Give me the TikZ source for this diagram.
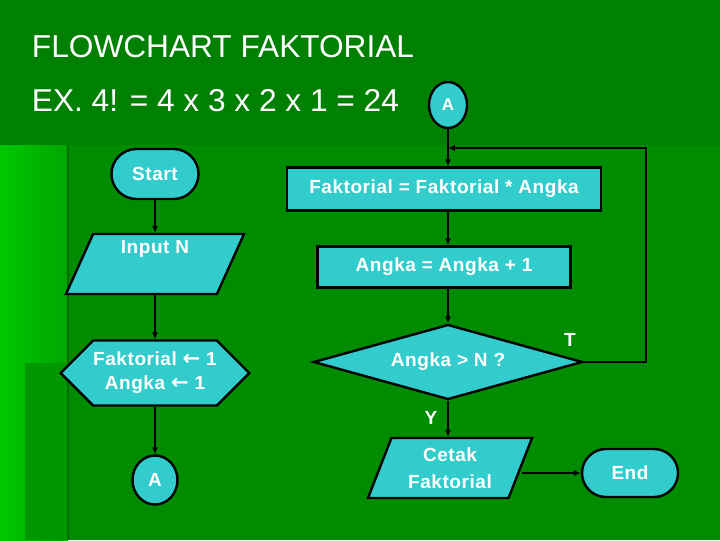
\documentclass[tikz,border=0pt]{standalone}
\usepackage{fontspec}
\setmainfont{Liberation Sans}
\newfontfamily\boxfont[LetterSpace=3]{Liberation Sans}
\newfontfamily\arrowfont{DejaVu Sans}
\usetikzlibrary{arrows.meta, positioning, calc, shapes.geometric, shapes.misc, shapes.symbols}
\definecolor{boxcyan}{RGB}{51,204,204}
\definecolor{bgdark}{RGB}{0,128,0}
\definecolor{bgmid}{RGB}{0,140,0}
\definecolor{bglight}{RGB}{0,165,0}
\definecolor{bgbright}{RGB}{0,200,0}
\newcommand{\setarrow}{{\arrowfont\bfseries\fontsize{15}{15}\selectfont ←}}

\begin{document}
\begin{tikzpicture}[x=0.025cm, y=-0.025cm,
  shp/.style={draw=black, line width=1.7pt, fill=boxcyan, text=white,
    font=\boxfont\fontsize{13.5}{17}\selectfont\bfseries, inner sep=0pt, align=center},
  term/.style={shp, rounded rectangle},
  iobox/.style={shp, trapezium, trapezium left angle=60, trapezium right angle=120,
    trapezium stretches body},
  procbox/.style={shp, rectangle},
  prepbox/.style={shp, signal, signal to=west and east, signal pointer angle=90},
  decide/.style={shp, diamond, aspect=3.6},
  conn/.style={shp, ellipse},
  arr/.style={line width=1.4pt, -{Latex[length=5pt,width=4.5pt]}},
  lbl/.style={text=white, font=\boxfont\fontsize{13.5}{16}\selectfont\bfseries},
  head/.style={anchor=west, text=white, font=\fontsize{22.5}{26}\selectfont}]
  \useasboundingbox (0,0) rectangle (720,540);

  % background of the slide
  \fill[bgdark] (0,0) rectangle (720,540);
  \shade[left color=bgbright, right color=bglight] (0,145) rectangle (68,540);
  \fill[bglight!92!black] (25,363) rectangle (68,540);
  \fill[bgmid] (68,145) rectangle (720,540);
  \draw[bgdark!85!black, line width=1pt] (68,145) -- (68,540);

  % heading
  \node[head] (title) at (27,47) {FLOWCHART FAKTORIAL};
  \node[head] (example) at (27,101) {EX. 4! = 4 x 3 x 2 x 1 = 24};

  % left column
  \node[term, minimum width=2.175cm, minimum height=1.25cm] (start) at (155,174) {Start};
  \node[iobox, minimum width=4.45cm, minimum height=1.5cm] (input) at (155,264) {Input N\\[2pt]\strut};
  \node[prepbox, minimum width=4.6cm, minimum height=1.625cm] (init) at (155,373)
    {Faktorial \setarrow\ 1\\Angka \setarrow\ 1};
  \node[conn, minimum width=1.125cm, minimum height=1.225cm] (abot) at (155,480) {A};

  % right column
  \node[conn, minimum width=0.95cm, minimum height=1.15cm, font=\boxfont\fontsize{12}{14}\selectfont\bfseries] (atop) at (448,105) {A};
  \coordinate (join) at (448,148);
  \coordinate (turn) at (646,148);
  \node[procbox, minimum width=7.85cm, minimum height=1.075cm] (kali) at (444,189) {Faktorial = Faktorial * Angka};
  \node[procbox, minimum width=6.325cm, minimum height=1.025cm] (tambah) at (444,267) {Angka = Angka + 1};
  \node[decide, minimum width=6.725cm, minimum height=1.875cm] (check) at (448,362) {Angka > N ?};
  \node[iobox, minimum width=4.1cm, minimum height=1.5cm] (cetak) at (450,468) {Cetak\\[2pt]Faktorial};
  \node[term, minimum width=2.4cm, minimum height=1.2cm] (end) at (630,473) {End};

  % branch labels
  \node[lbl] (tlabel) at (570,340) {T};
  \node[lbl] (ylabel) at (431,418) {Y};

  % connectors
  \draw[arr] (start.south) -- (start.south |- input.north);
  \draw[arr] (input.south -| start.south) -- (init.north -| start.south);
  \draw[arr] (init.south -| start.south) -- (abot.north);
  \draw[arr] (atop.south) -- (atop.south |- kali.north);
  \draw[arr] (kali.south -| atop.south) -- (tambah.north -| atop.south);
  \draw[arr] (tambah.south -| atop.south) -- (check.north);
  \draw[arr] (check.south) -- (check.south |- cetak.north);
  \draw[arr] (check.east) -| (turn) -- (join);
  \draw[arr] (cetak.east |- end.west) -- (end.west);

\end{tikzpicture}
\end{document}
